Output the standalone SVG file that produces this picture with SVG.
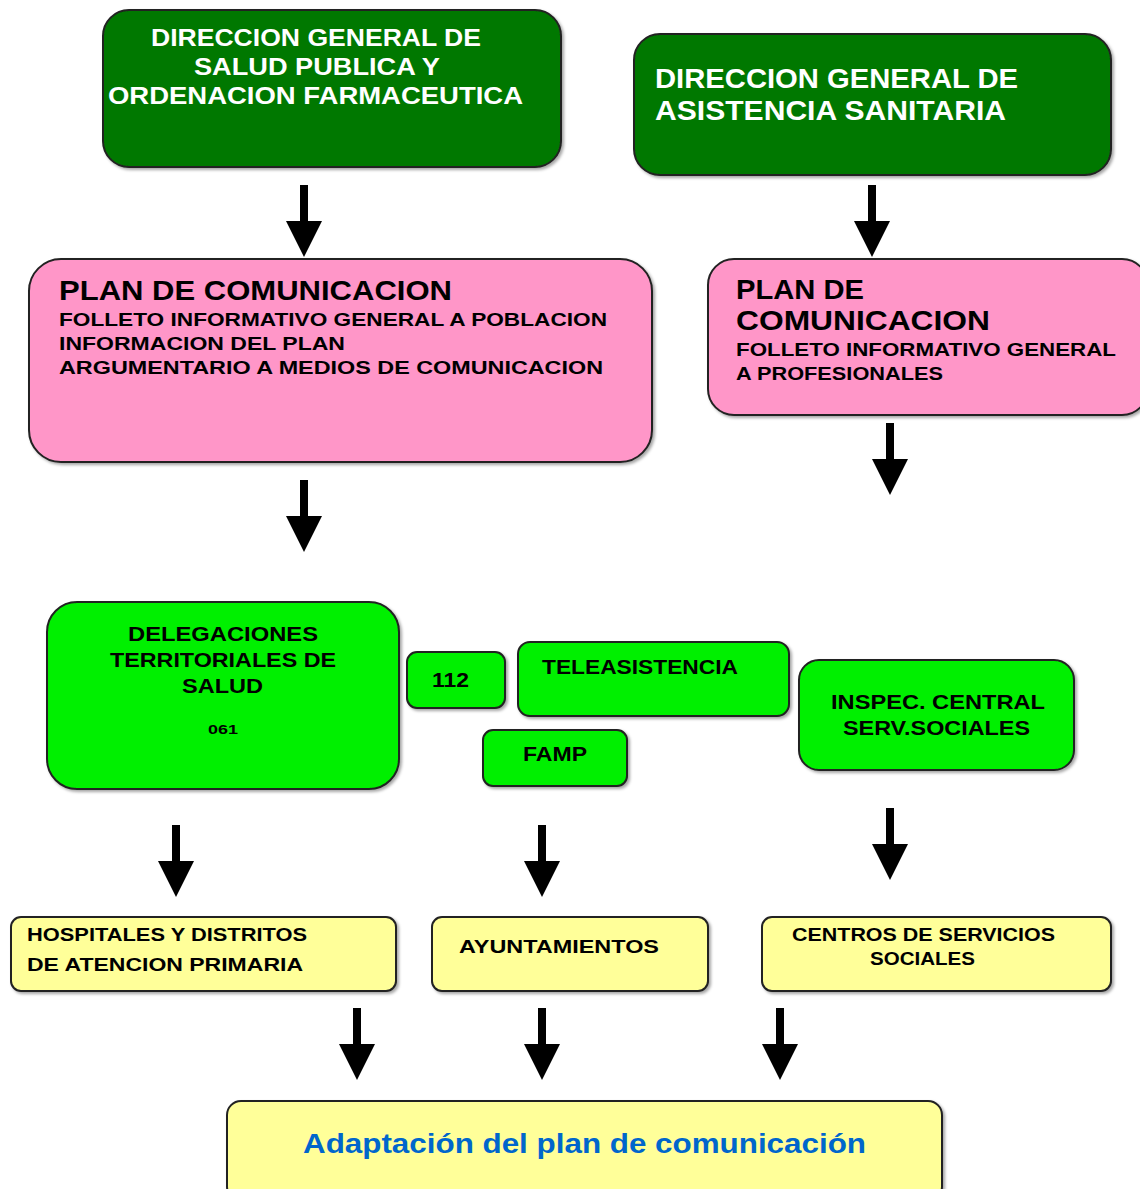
<svg xmlns="http://www.w3.org/2000/svg" width="1140" height="1189" viewBox="0 0 1140 1189">
<defs>
<filter id="sh" x="-5%" y="-5%" width="110%" height="115%">
<feDropShadow dx="2" dy="2" stdDeviation="1.5" flood-color="#000" flood-opacity="0.35"/>
</filter>
</defs>
<style>
.box{stroke:#222;stroke-width:2;filter:url(#sh)}
.dg{fill:#007800}
.pk{fill:#ff96c8}
.lg{fill:#00f000}
.yl{fill:#ffff99}
text{font-family:"Liberation Sans",Arial,sans-serif;font-weight:bold}
.w{fill:#fff}
.k{fill:#000}
.bl{fill:#0066cc}
.arr{fill:#000}
</style>
<rect width="1140" height="1189" fill="#fff"/>
<g id="connectors">
<path class="arr" d="M300 185H308V221H322L304 257L286 221H300Z"/>
<path class="arr" d="M868 185H876V221H890L872 257L854 221H868Z"/>
<path class="arr" d="M300 480H308V516H322L304 552L286 516H300Z"/>
<path class="arr" d="M886 423H894V459H908L890 495L872 459H886Z"/>
<path class="arr" d="M172 825H180V861H194L176 897L158 861H172Z"/>
<path class="arr" d="M538 825H546V861H560L542 897L524 861H538Z"/>
<path class="arr" d="M886 808H894V844H908L890 880L872 844H886Z"/>
<path class="arr" d="M353 1008H361V1044H375L357 1080L339 1044H353Z"/>
<path class="arr" d="M538 1008H546V1044H560L542 1080L524 1044H538Z"/>
<path class="arr" d="M776 1008H784V1044H798L780 1080L762 1044H776Z"/>
</g>
<g id="dg-salud">
<rect class="box dg" x="103" y="10" width="458" height="157" rx="26"/>
<text class="w" font-size="24" x="151" y="46" textLength="330" lengthAdjust="spacingAndGlyphs">DIRECCION GENERAL DE</text>
<text class="w" font-size="24" x="194" y="75" textLength="246" lengthAdjust="spacingAndGlyphs">SALUD PUBLICA Y</text>
<text class="w" font-size="24" x="108" y="104" textLength="415" lengthAdjust="spacingAndGlyphs">ORDENACION FARMACEUTICA</text>
</g>
<g id="dg-asistencia">
<rect class="box dg" x="634" y="34" width="477" height="141" rx="26"/>
<text class="w" font-size="28" x="655" y="88" textLength="363" lengthAdjust="spacingAndGlyphs">DIRECCION GENERAL DE</text>
<text class="w" font-size="28" x="655" y="120" textLength="351" lengthAdjust="spacingAndGlyphs">ASISTENCIA SANITARIA</text>
</g>
<g id="plan-poblacion">
<rect class="box pk" x="29" y="259" width="623" height="203" rx="32"/>
<text class="k" font-size="28" x="59" y="300" textLength="393" lengthAdjust="spacingAndGlyphs">PLAN DE COMUNICACION</text>
<text class="k" font-size="19" x="59" y="326" textLength="548" lengthAdjust="spacingAndGlyphs">FOLLETO INFORMATIVO GENERAL A POBLACION</text>
<text class="k" font-size="19" x="59" y="350" textLength="286" lengthAdjust="spacingAndGlyphs">INFORMACION DEL PLAN</text>
<text class="k" font-size="19" x="59" y="374" textLength="544" lengthAdjust="spacingAndGlyphs">ARGUMENTARIO A MEDIOS DE COMUNICACION</text>
</g>
<g id="plan-profesionales">
<rect class="box pk" x="708" y="259" width="440" height="156" rx="26"/>
<text class="k" font-size="28" x="736" y="299" textLength="128" lengthAdjust="spacingAndGlyphs">PLAN DE</text>
<text class="k" font-size="28" x="736" y="330" textLength="254" lengthAdjust="spacingAndGlyphs">COMUNICACION</text>
<text class="k" font-size="19" x="736" y="356" textLength="380" lengthAdjust="spacingAndGlyphs">FOLLETO INFORMATIVO GENERAL</text>
<text class="k" font-size="19" x="736" y="380" textLength="207" lengthAdjust="spacingAndGlyphs">A PROFESIONALES</text>
</g>
<g id="delegaciones">
<rect class="box lg" x="47" y="602" width="352" height="187" rx="30"/>
<text class="k" font-size="21" x="128" y="641" textLength="190" lengthAdjust="spacingAndGlyphs">DELEGACIONES</text>
<text class="k" font-size="21" x="110" y="667" textLength="226" lengthAdjust="spacingAndGlyphs">TERRITORIALES DE</text>
<text class="k" font-size="21" x="182" y="693" textLength="81" lengthAdjust="spacingAndGlyphs">SALUD</text>
<text class="k" font-size="13" x="208" y="734" textLength="30" lengthAdjust="spacingAndGlyphs">061</text>
</g>
<g id="n112">
<rect class="box lg" x="407" y="652" width="98" height="56" rx="10"/>
<text class="k" font-size="20" x="432" y="687" textLength="37" lengthAdjust="spacingAndGlyphs">112</text>
</g>
<g id="teleasistencia">
<rect class="box lg" x="518" y="642" width="271" height="74" rx="12"/>
<text class="k" font-size="20" x="542" y="674" textLength="196" lengthAdjust="spacingAndGlyphs">TELEASISTENCIA</text>
</g>
<g id="famp">
<rect class="box lg" x="483" y="730" width="144" height="56" rx="10"/>
<text class="k" font-size="20" x="523" y="761" textLength="64" lengthAdjust="spacingAndGlyphs">FAMP</text>
</g>
<g id="inspec">
<rect class="box lg" x="799" y="660" width="275" height="110" rx="20"/>
<text class="k" font-size="21" x="831" y="709" textLength="214" lengthAdjust="spacingAndGlyphs">INSPEC. CENTRAL</text>
<text class="k" font-size="21" x="843" y="735" textLength="187" lengthAdjust="spacingAndGlyphs">SERV.SOCIALES</text>
</g>
<g id="hospitales">
<rect class="box yl" x="11" y="917" width="385" height="74" rx="10"/>
<text class="k" font-size="19" x="27" y="941" textLength="280" lengthAdjust="spacingAndGlyphs">HOSPITALES Y DISTRITOS</text>
<text class="k" font-size="19" x="27" y="971" textLength="276" lengthAdjust="spacingAndGlyphs">DE ATENCION PRIMARIA</text>
</g>
<g id="ayuntamientos">
<rect class="box yl" x="432" y="917" width="276" height="74" rx="10"/>
<text class="k" font-size="19" x="459" y="953" textLength="200" lengthAdjust="spacingAndGlyphs">AYUNTAMIENTOS</text>
</g>
<g id="centros">
<rect class="box yl" x="762" y="917" width="349" height="74" rx="10"/>
<text class="k" font-size="19" x="792" y="941" textLength="263" lengthAdjust="spacingAndGlyphs">CENTROS DE SERVICIOS</text>
<text class="k" font-size="19" x="870" y="965" textLength="105" lengthAdjust="spacingAndGlyphs">SOCIALES</text>
</g>
<g id="adaptacion">
<rect class="box yl" x="227" y="1101" width="715" height="100" rx="14"/>
<text class="bl" font-size="28" x="303" y="1153" textLength="563" lengthAdjust="spacingAndGlyphs">Adaptación del plan de comunicación</text>
</g>
</svg>
